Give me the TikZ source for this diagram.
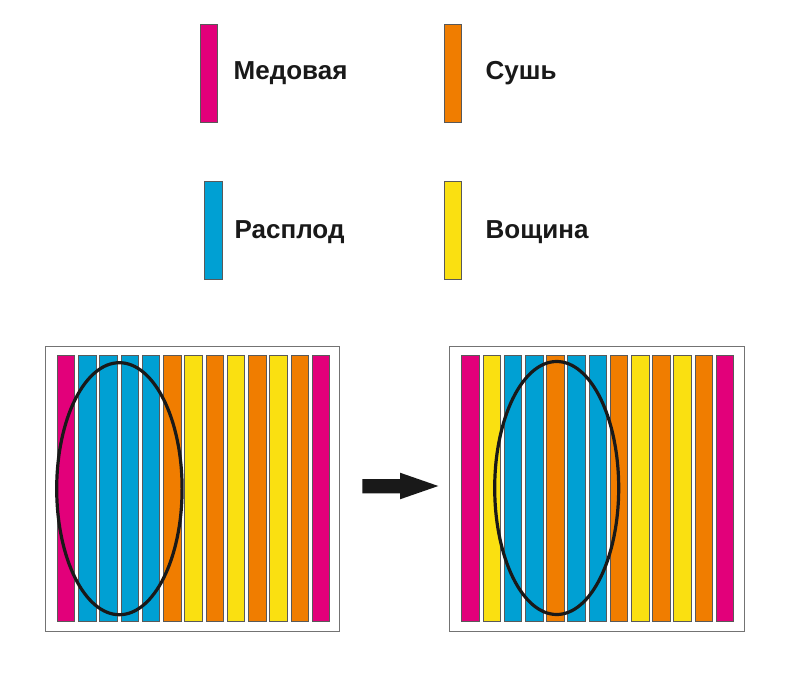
\documentclass[tikz,border=0pt]{standalone}
\usepackage{fontspec}
\setmainfont{Liberation Sans}
\definecolor{cmag}{HTML}{E2007A}
\definecolor{cblue}{HTML}{00A0D3}
\definecolor{corange}{HTML}{F07D00}
\definecolor{cyellow}{HTML}{FAE011}
\tikzset{
  bar/.style={draw=black!65, line width=0.8pt},
  frame/.style={draw=black!55, line width=1pt},
  oval/.style={draw=black!90, line width=3.2pt},
  lbl/.style={anchor=base west, inner sep=0pt, font=\fontsize{26pt}{30pt}\selectfont\bfseries, text=black!90},
}
\begin{document}
\begin{tikzpicture}[x=1pt,y=-1pt]
\useasboundingbox (0,0) rectangle (786,682);
% legend
\filldraw[bar, fill=cmag] (200,24) rectangle (217.7,122.3);
\node[lbl] (lmed) at (233.5,79.3) {Медовая};
\filldraw[bar, fill=corange] (444,24) rectangle (461.7,122.3);
\node[lbl] (lsus) at (485.5,79.3) {Сушь};
\filldraw[bar, fill=cblue] (204.3,181.7) rectangle (222.3,279.3);
\node[lbl] (lras) at (234.5,238.3) {Расплод};
\filldraw[bar, fill=cyellow] (444,181.7) rectangle (461.7,279.3);
\node[lbl] (lvos) at (485.5,238.3) {Вощина};
% left frame
\draw[frame] (45,346) rectangle (339.5,631);
\foreach \c [count=\i from 0] in {cmag,cblue,cblue,cblue,cblue,corange,cyellow,corange,cyellow,corange,cyellow,corange,cmag}{
  \filldraw[bar, fill=\c] ({57.3+21.25*\i},355) rectangle ({57.3+21.25*\i+17.5},621);
}
\draw[oval] (119.4,488.7) ellipse [x radius=62.7, y radius=126];
% right frame
\draw[frame] (449.7,346) rectangle (744.3,631);
\foreach \c [count=\i from 0] in {cmag,cyellow,cblue,cblue,corange,cblue,cblue,corange,cyellow,corange,cyellow,corange,cmag}{
  \filldraw[bar, fill=\c] ({461.7+21.2*\i},355) rectangle ({461.7+21.2*\i+17.7},621);
}
\draw[oval] (556.7,488) ellipse [x radius=62, y radius=126.5];
% arrow
\fill[black!90] (362.3,479) -- (400,479) -- (400,472.7) -- (438.3,486) -- (400,499.3) -- (400,493.3) -- (362.3,493.3) -- cycle;
\end{tikzpicture}
\end{document}
